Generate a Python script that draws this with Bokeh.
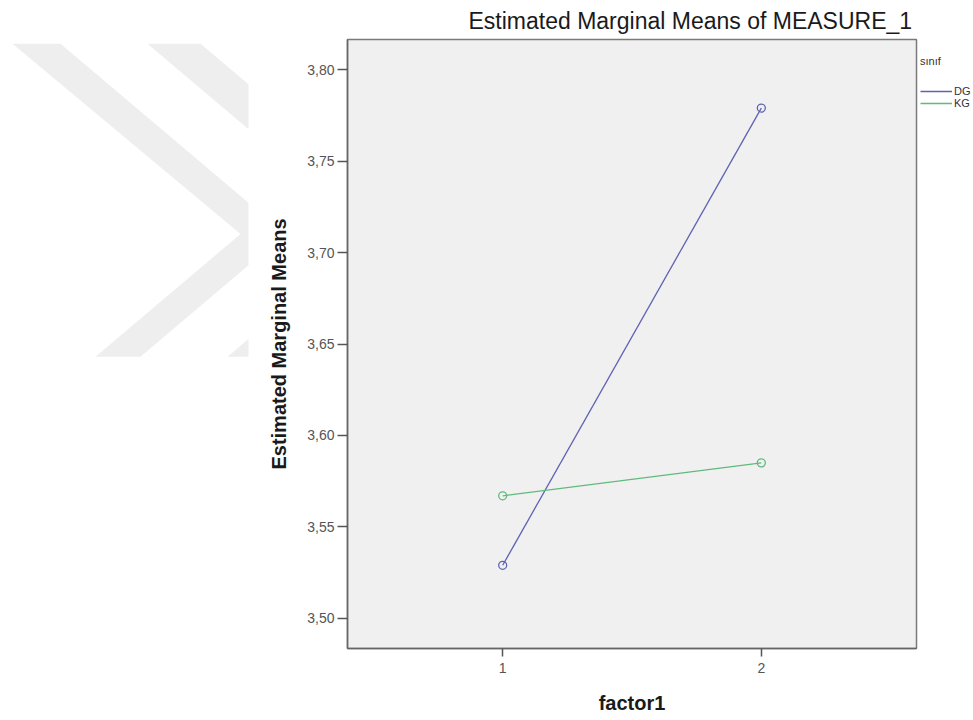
from bokeh.plotting import figure
from bokeh.layouts import row
from bokeh.models import (Range1d, FixedTicker, CustomJSTickFormatter, Legend,
                          LegendItem)
from bokeh.embed import file_html
from bokeh.resources import INLINE

# ---- data ----
factor1 = [1, 2]
dg_means = [3.529, 3.779]
kg_means = [3.567, 3.585]
series_names = ["DG", "KG"]
legend_title = "sınıf"
y_ticks = [3.50, 3.55, 3.60, 3.65, 3.70, 3.75, 3.80]
x_ticks = [1, 2]
chart_title = "Estimated Marginal Means of MEASURE_1"
x_title = "factor1"
y_title = "Estimated Marginal Means"

# ---- decorative background watermark (page pixels, not data) ----
WATERMARK = [
    ([12, 60, 248, 248, 140, 95, 240], [5, 5, 193, 267, 375, 375, 230]),
    ([147, 200, 248, 248], [5, 5, 53, 106]),
    ([227, 248, 248], [375, 354, 375]),
]

# ---- style ----
FONT = "Liberation Sans"
BLUE = "#5f62b2"
GREEN = "#5fba7c"
WM_W = 250
FRAME_W, FRAME_H = 569, 609
H = 720

# left strip carrying the watermark
wm = figure(width=WM_W, height=H, x_range=Range1d(0, WM_W), y_range=Range1d(H, 0),
            x_axis_location=None, y_axis_location=None, min_border=0,
            output_backend="svg", toolbar_location=None)
wm.outline_line_color = None
wm.grid.visible = False
wm.patches([b[0] for b in WATERMARK], [b[1] for b in WATERMARK],
           fill_color="#eeeeee", line_color=None)

p = figure(frame_width=FRAME_W, frame_height=FRAME_H,
           min_border_left=347 - WM_W, min_border_right=57,
           min_border_top=39, min_border_bottom=H - 39 - FRAME_H,
           x_range=Range1d(0.4, 2.6), y_range=Range1d(3.4835, 3.8165),
           output_backend="svg", toolbar_location=None)

p.background_fill_color = "#f0f0f0"
p.border_fill_color = "white"
p.outline_line_color = "#7a7a7a"
p.outline_line_width = 1.5
p.xgrid.visible = False
p.ygrid.visible = False

p.title.text = chart_title
p.title.text_font = FONT
p.title.text_font_size = "23px"
p.title.text_font_style = "normal"
p.title.text_color = "#1a1a1a"
p.title.align = "left"
p.title.offset = 121
p.title.standoff = 11

# axes
for ax in (p.xaxis[0], p.yaxis[0]):
    ax.axis_line_color = "#666666"
    ax.axis_line_width = 1.5
    ax.major_tick_line_color = "#555555"
    ax.major_tick_line_width = 1.5
    ax.major_tick_in = 0
    ax.minor_tick_line_color = None
    ax.major_label_text_font = FONT
    ax.major_label_text_font_size = "14px"
    ax.major_label_text_color = "#555555"
    ax.axis_label_text_font = FONT
    ax.axis_label_text_font_style = "bold"
    ax.axis_label_text_font_size = "20px"
    ax.axis_label_text_color = "#1a1a1a"

p.xaxis.ticker = FixedTicker(ticks=x_ticks)
p.xaxis.major_tick_out = 8
p.xaxis.major_label_standoff = 6
p.xaxis.axis_label = x_title
p.xaxis.axis_label_standoff = 16

p.yaxis.ticker = FixedTicker(ticks=y_ticks)
p.yaxis.major_tick_out = 10
p.yaxis.major_label_standoff = 3
p.yaxis.formatter = CustomJSTickFormatter(code="return tick.toFixed(2).replace('.', ',');")
p.yaxis.axis_label = y_title
p.yaxis.axis_label_standoff = 14

# series
r_dg = p.line(factor1, dg_means, line_color=BLUE, line_width=1.3)
p.scatter(factor1, dg_means, marker="circle", size=8, fill_color=None,
          line_color=BLUE, line_width=1.3)
r_kg = p.line(factor1, kg_means, line_color=GREEN, line_width=1.3)
p.scatter(factor1, kg_means, marker="circle", size=8, fill_color=None,
          line_color=GREEN, line_width=1.3)

legend = Legend(items=[LegendItem(label=series_names[0], renderers=[r_dg]),
                       LegendItem(label=series_names[1], renderers=[r_kg])],
                title=legend_title, location=(4, FRAME_H - 70),
                padding=0, margin=0, spacing=0,
                glyph_width=32, glyph_height=12, label_standoff=2,
                label_text_font=FONT, label_text_font_size="11px",
                label_text_color="#333333",
                title_text_font=FONT, title_text_font_size="11px",
                title_text_font_style="normal", title_text_color="#333333",
                title_standoff=18,
                border_line_color=None, background_fill_alpha=0)
p.add_layout(legend, "right")

layout = row(wm, p, spacing=0)
open("out.html", "w").write(file_html(layout, INLINE))
